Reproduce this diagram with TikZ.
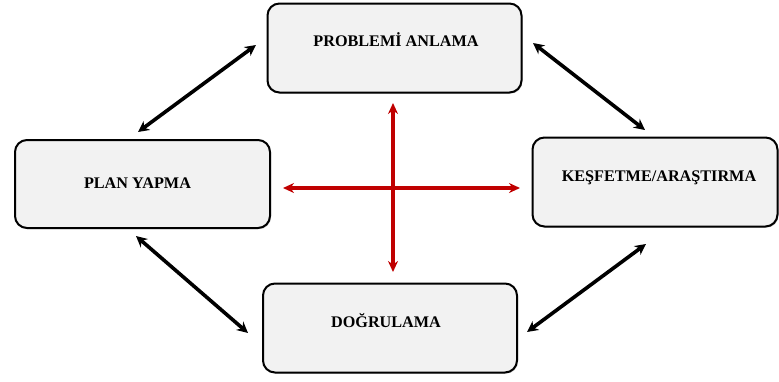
\documentclass[tikz,border=0pt]{standalone}
\usepackage{fontspec}
\setmainfont{Liberation Serif}
\usetikzlibrary{arrows.meta,shadows}
\definecolor{boxfill}{HTML}{F2F2F2}
\definecolor{crossred}{HTML}{C00000}
\tikzset{
  stagebox/.style={draw=black, line width=2pt, fill=boxfill, rounded corners=12pt,
    drop shadow={shadow xshift=1pt, shadow yshift=-1.2pt, opacity=0.35},
    inner sep=0pt},
  stagetext/.style={font=\bfseries\fontsize{16.2}{18}\selectfont, inner sep=0pt},
  cycle arrow/.style={line width=3.6pt, black, {Stealth[length=11pt,width=11pt]}-{Stealth[length=11pt,width=11pt]}},
  cross arrow/.style={line width=3.6pt, crossred, {Stealth[length=11pt,width=10pt]}-{Stealth[length=11pt,width=10pt]}},
}
\begin{document}
\begin{tikzpicture}[x=1pt,y=-1pt]
\useasboundingbox (0,0) rectangle (779,381);

% the four stages
\node[stagebox, minimum width=254pt, minimum height=89pt] (pa) at (394.5,48) {};
\node[stagebox, minimum width=245pt, minimum height=89pt] (ka) at (655,182) {};
\node[stagebox, minimum width=255pt, minimum height=88pt] (py) at (142.5,184) {};
\node[stagebox, minimum width=254pt, minimum height=89pt] (dg) at (390,328) {};

\node[stagetext] (tpa) at (396,40) {PROBLEMİ ANLAMA};
\node[stagetext] (tka) at (659,178) {KEŞFETME/ARAŞTIRMA};
\node[stagetext] (tpy) at (137.5,183) {PLAN YAPMA};
\node[stagetext] (tdg) at (386,321) {DOĞRULAMA};

% arrow end points between the stages
\coordinate (a1) at (138,132);
\coordinate (a2) at (256,45);
\coordinate (b1) at (533,43);
\coordinate (b2) at (645,130);
\coordinate (c1) at (136,236);
\coordinate (c2) at (248,333);
\coordinate (d1) at (646,244);
\coordinate (d2) at (527,332);

\draw[cycle arrow] (a1) -- (a2);
\draw[cycle arrow] (b1) -- (b2);
\draw[cycle arrow] (c1) -- (c2);
\draw[cycle arrow] (d1) -- (d2);

% central cross
\coordinate (vt) at (393,103);
\coordinate (vb) at (393,272);
\coordinate (hl) at (283,188);
\coordinate (hr) at (520,188);
\draw[cross arrow] (vt) -- (vb);
\draw[cross arrow] (hl) -- (hr);
\end{tikzpicture}
\end{document}
